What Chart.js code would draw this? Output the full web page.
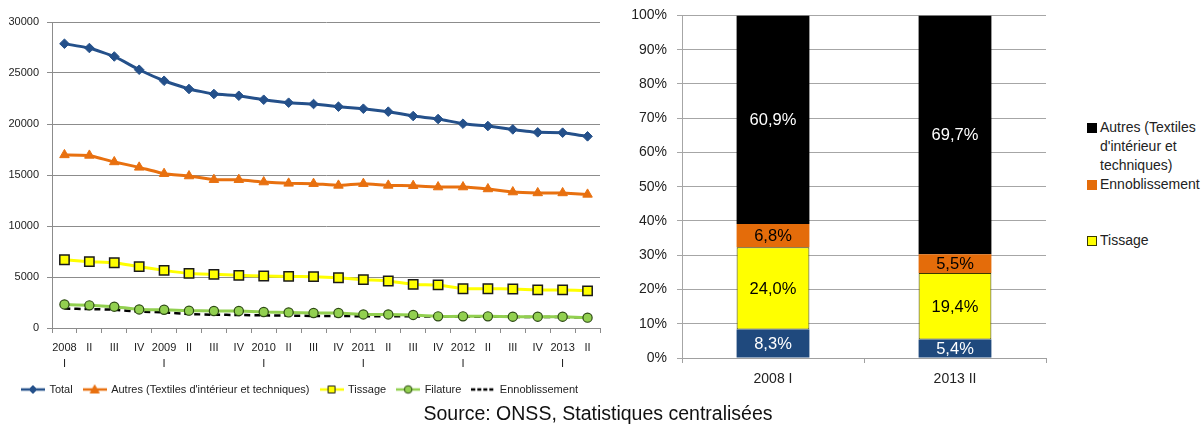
<!DOCTYPE html>
<html><head><meta charset="utf-8">
<script src="https://cdn.jsdelivr.net/npm/chart.js@4.4.1/dist/chart.umd.min.js"></script>
<style>
html,body{margin:0;padding:0;background:#fff;width:1203px;height:432px;overflow:hidden;font-family:"Liberation Sans",Arial,sans-serif}
#left{position:absolute;left:0;top:0;width:612px;height:405px}
#right{position:absolute;left:620px;top:-3px;width:440px;height:400px}
#src{position:absolute;left:0;width:1196px;top:401px;text-align:center;font-size:19.5px;line-height:24px;color:#111}
#rleg{position:absolute;left:1087px;top:0;font-size:14px;color:#222}
.it{position:absolute;left:0;white-space:nowrap;line-height:19px}
.bx{position:absolute;left:0;width:10px;height:10px;box-sizing:border-box}
.tx{position:absolute;left:13px}
</style></head><body>
<div id="left"><canvas id="c1"></canvas></div>
<div id="right"><canvas id="c2"></canvas></div>
<div id="rleg">
  <div class="it" style="top:118px"><div class="bx" style="top:5px;background:#000"></div><div class="tx">Autres (Textiles<br>d'intérieur et<br>techniques)</div></div>
  <div class="it" style="top:175px"><div class="bx" style="top:5px;background:#E46C0A"></div><div class="tx">Ennoblissement</div></div>
  <div class="it" style="top:231px"><div class="bx" style="top:5px;background:#FFFF00;border:1px solid #3a3a00"></div><div class="tx">Tissage</div></div>
</div>
<div id="src">Source: ONSS, Statistiques centralisées</div>
<script>
// ---- Line chart data (employment by quarter) ----
const quarterLabels = [["2008","I"],"II","III","IV",["2009","I"],"II","III","IV",["2010","I"],"II","III","IV",["2011","I"],"II","III","IV",["2012","I"],"II","III","IV",["2013","I"],"II"];
const total          = [27870,27450,26620,25320,24240,23430,22940,22770,22380,22090,21960,21700,21500,21210,20780,20490,20030,19800,19470,19180,19150,18790];
const autres         = [16970,16920,16280,15750,15130,14900,14540,14540,14310,14180,14150,13980,14150,13980,13950,13820,13820,13630,13330,13240,13240,13100];
const tissage        = [6690,6500,6400,6010,5650,5350,5260,5160,5100,5060,5030,4930,4740,4610,4270,4220,3850,3850,3820,3730,3730,3645];
const filature       = [2310,2220,2090,1820,1790,1700,1670,1670,1570,1530,1470,1470,1330,1330,1280,1140,1140,1140,1110,1110,1110,1015];
const ennoblissement = [1900,1860,1790,1600,1530,1370,1300,1280,1240,1210,1180,1170,1160,1150,1140,1120,1110,1100,1090,1080,1070,1035];
const yTicksLeft = [0,5000,10000,15000,20000,25000,30000];

// ---- Stacked 100% bar data ----
const barCategories = ["2008 I","2013 II"];
const shareFilature = [8.3, 5.4];
const shareTissage  = [24.0, 19.4];
const shareEnnob    = [6.8, 5.5];
const shareAutres   = [60.9, 69.7];

const FONT = '"Liberation Sans", Arial, sans-serif';
Chart.defaults.font.family = FONT;
Chart.defaults.color = '#222';

function legendIcon(color, marker, dashed, fill, stroke){
  const c = document.createElement('canvas'); c.width = 24; c.height = 12;
  const g = c.getContext('2d');
  g.strokeStyle = color; g.lineWidth = 2.5;
  if (dashed) g.setLineDash([4,2]);
  g.beginPath(); g.moveTo(0,6); g.lineTo(24,6); g.stroke(); g.setLineDash([]);
  g.fillStyle = fill || color; g.strokeStyle = stroke || color; g.lineWidth = 1;
  g.beginPath();
  if (marker === 'diamond'){ g.moveTo(12,2); g.lineTo(16,6); g.lineTo(12,10); g.lineTo(8,6); g.closePath(); }
  else if (marker === 'triangle'){ g.moveTo(12,1.5); g.lineTo(16.5,9.5); g.lineTo(7.5,9.5); g.closePath(); }
  else if (marker === 'square'){ g.rect(8.5,2.5,7,7); }
  else if (marker === 'circle'){ g.arc(12,6,3.8,0,Math.PI*2); }
  if (marker){ g.fill(); g.stroke(); }
  return c;
}

const lineDatasets = [
  {label:'Total', data:total, borderColor:'#24508A', backgroundColor:'#24508A', borderWidth:3,
   pointStyle:'rectRot', pointRadius:4.8, pointBorderWidth:1, pointBackgroundColor:'#24508A', pointBorderColor:'#24508A', icon:['diamond']},
  {label:"Autres (Textiles d'intérieur et techniques)", data:autres, borderColor:'#E8700F', backgroundColor:'#E8700F', borderWidth:3,
   pointStyle:'triangle', pointRadius:5.5, pointBorderWidth:1, pointBackgroundColor:'#E8700F', pointBorderColor:'#E8700F', icon:['triangle']},
  {label:'Tissage', data:tissage, borderColor:'#FFFF00', backgroundColor:'#FFFF00', borderWidth:3,
   pointStyle:'rect', pointRadius:6.6, pointBorderWidth:1.5, pointBackgroundColor:'#FFFF00', pointBorderColor:'#1a1a1a', icon:['square','#FFFF00','#1a1a1a']},
  {label:'Filature', data:filature, borderColor:'#92D050', backgroundColor:'#92D050', borderWidth:3,
   pointStyle:'circle', pointRadius:4.6, pointBorderWidth:1.2, pointBackgroundColor:'#92D050', pointBorderColor:'#2d4a14', icon:['circle','#92D050','#2d4a14']},
  {label:'Ennoblissement', data:ennoblissement, borderColor:'#000000', backgroundColor:'#000000', borderWidth:2.5,
   borderDash:[6,4], pointRadius:0, icon:[null], dashed:true}
];

new Chart(document.getElementById('c1'), {
  type:'line',
  data:{labels:quarterLabels, datasets:lineDatasets},
  options:{
    responsive:true, maintainAspectRatio:false, animation:false,
    layout:{padding:{left:0,right:12,top:22,bottom:0}},
    elements:{line:{tension:0.1}},
    plugins:{
      tooltip:{enabled:false},
      legend:{position:'bottom',
        labels:{usePointStyle:true, pointStyleWidth:22, padding:11, font:{size:11}, color:'#222',
          generateLabels(chart){
            return chart.data.datasets.map((ds,i)=>({
              text:ds.label, datasetIndex:i, hidden:false, fontColor:'#222',
              pointStyle:legendIcon(ds.borderColor, ds.icon[0], ds.dashed, ds.icon[1], ds.icon[2]),
              fillStyle:ds.borderColor, strokeStyle:ds.borderColor, lineWidth:0
            }));
          }}}
    },
    scales:{
      x:{offset:true,
         grid:{display:true, drawOnChartArea:false, offset:true, tickLength:5, color:'#8c8c8c'},
         border:{color:'#8c8c8c'},
         ticks:{autoSkip:false, maxRotation:0, padding:7, font:{size:11, lineHeight:1.45}, color:'#222'},
         afterFit(s){ s.height = Math.max(30, 405 - 328 - s.chart.legend.height); }},
      y:{min:0, max:30000, afterBuildTicks(s){ s.ticks = yTicksLeft.map(v=>({value:v})); },
         ticks:{callback:v=>String(v), padding:8, font:{size:11}, color:'#222'},
         grid:{color:'#8c8c8c', tickLength:5}, border:{color:'#8c8c8c'},
         afterFit(s){ s.width = 52; }}
    }
  }
});

const barLabels = {
  id:'barLabels',
  afterDatasetsDraw(chart){
    const ctx = chart.ctx; ctx.save();
    ctx.font = '16.5px ' + FONT; ctx.textAlign = 'center'; ctx.textBaseline = 'middle';
    chart.data.datasets.forEach((ds,i)=>{
      const meta = chart.getDatasetMeta(i);
      meta.data.forEach((el,j)=>{
        const p = el.getProps(['x','y','base'], true);
        ctx.fillStyle = ds.labelColor;
        ctx.fillText(ds.data[j].toFixed(1).replace('.', ',') + '%', p.x, (p.y + p.base)/2 + 1);
      });
    });
    ctx.restore();
  }
};

const barCommon = {barPercentage:0.4, categoryPercentage:1, borderWidth:0};
new Chart(document.getElementById('c2'), {
  type:'bar',
  data:{labels:barCategories, datasets:[
    Object.assign({label:'Filature', data:shareFilature, backgroundColor:'#1F497D', labelColor:'#ffffff'}, barCommon),
    Object.assign({label:'Tissage', data:shareTissage, backgroundColor:'#FFFF00', labelColor:'#000000'}, barCommon, {borderWidth:1, borderColor:'#3a3a00', borderSkipped:false}),
    Object.assign({label:'Ennoblissement', data:shareEnnob, backgroundColor:'#E46C0A', labelColor:'#000000'}, barCommon),
    Object.assign({label:"Autres (Textiles d'intérieur et techniques)", data:shareAutres, backgroundColor:'#000000', labelColor:'#ffffff'}, barCommon)
  ]},
  plugins:[barLabels],
  options:{
    responsive:true, maintainAspectRatio:false, animation:false,
    layout:{padding:{left:0,right:14,top:11,bottom:0}},
    plugins:{legend:{display:false}, tooltip:{enabled:false}},
    scales:{
      x:{stacked:true,
         grid:{display:true, drawOnChartArea:false, offset:true, tickLength:5, color:'#a0a0a0'},
         border:{color:'#a0a0a0'},
         ticks:{font:{size:14}, color:'#222', padding:8},
         afterFit(s){ s.height = 39; }},
      y:{stacked:true, min:0, max:100,
         ticks:{stepSize:10, callback:v=>v+'%', font:{size:14}, color:'#222', padding:10},
         grid:{color:'#a6a6a6', tickLength:5}, border:{color:'#a6a6a6'},
         afterFit(s){ s.width = 62; }}
    }
  }
});
</script>
</body></html>
